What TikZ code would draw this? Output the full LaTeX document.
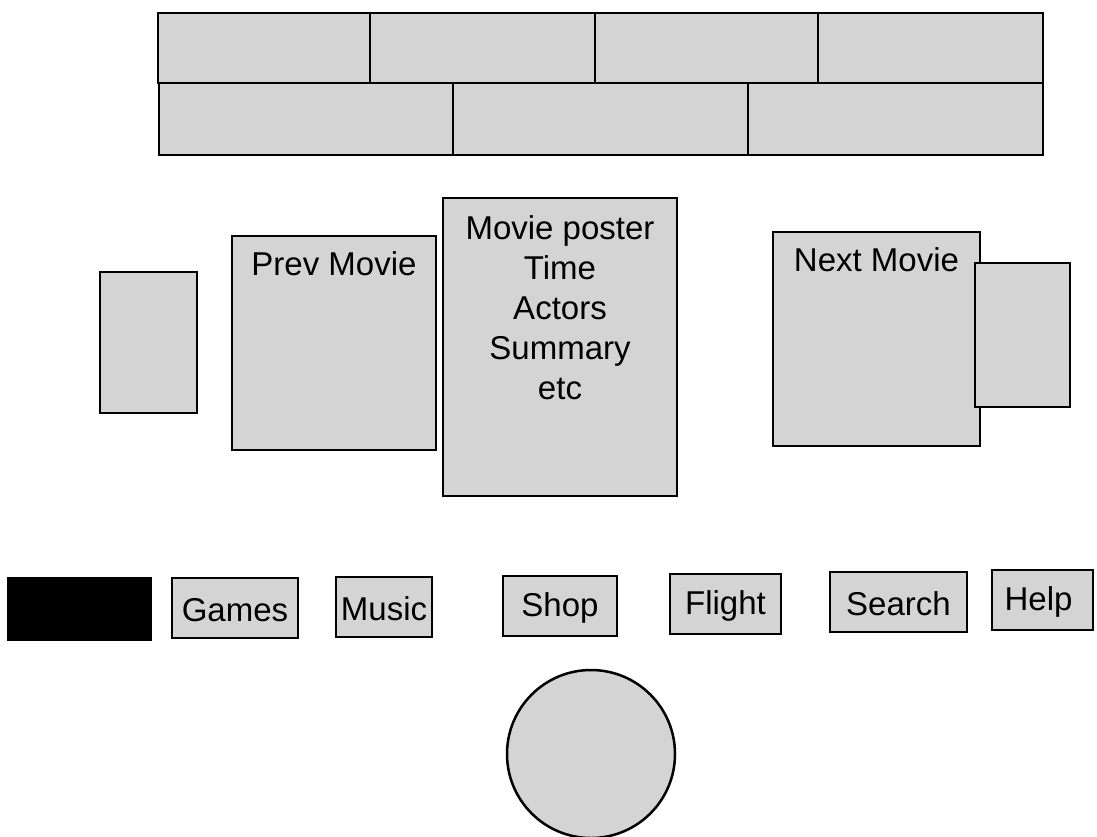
\documentclass[tikz,border=0pt]{standalone}
\usepackage{fontspec}
\setmainfont{Liberation Sans}
\tikzset{
  panel/.style={draw=black, line width=2.5pt, fill=black!17, anchor=north west, inner sep=0pt, outer sep=0pt},
  lbl/.style={font=\fontsize{33}{40}\selectfont, text=black, inner sep=0pt},
}
\newcommand{\pbox}[5]{% name, x1, y1, x2, y2
  \node[panel, minimum width={#4-#2}, minimum height={#5-#3}] (#1) at (#2,#3) {};}
\begin{document}
\begin{tikzpicture}[x=1pt,y=-1pt]
\useasboundingbox (0,0) rectangle (1097,836);
% top strip row 1
\pbox{t1}{158}{13}{370}{83}
\pbox{t2}{370}{13}{595}{83}
\pbox{t3}{595}{13}{818}{83}
\pbox{t4}{818}{13}{1043}{83}
% top strip row 2
\pbox{b1}{159}{83}{453}{155}
\pbox{b2}{453}{83}{748}{155}
\pbox{b3}{748}{83}{1043}{155}
% middle
\pbox{lsmall}{100}{272}{197}{413}
\pbox{prev}{232}{236}{436}{450}
\pbox{poster}{443}{198}{677}{496}
\pbox{next}{773}{232}{980}{446}
\pbox{rsmall}{975}{263}{1070}{407}
\node[lbl, anchor=north] (prevt) at ([yshift=-15pt]prev.north) {Prev Movie};
\node[lbl, anchor=north] (nextt) at ([yshift=-15pt]next.north) {Next Movie};
\node[lbl, anchor=north, align=center] (postert) at ([yshift=-17pt]poster.north)
  {Movie poster\\Time\\Actors\\Summary\\etc};
% buttons
\node[panel, fill=black, minimum width=143pt, minimum height=62pt] (blk) at (8,578) {};
\pbox{games}{172}{578}{298}{638}
\pbox{music}{336}{577}{432}{637}
\pbox{shop}{503}{576}{617}{636}
\pbox{flight}{670}{574}{781}{634}
\pbox{search}{830}{572}{967}{632}
\pbox{help}{992}{570}{1093}{630}
\node[lbl] at ([yshift=-2pt]games.center) {Games};
\node[lbl] at ([yshift=-2pt]music.center) {Music};
\node[lbl] at ([yshift=-2pt]shop.center) {Shop};
\node[lbl] at ([yshift=-2pt]flight.center) {Flight};
\node[lbl] at ([yshift=-2pt]search.center) {Search};
\node[lbl] at ([yshift=-2pt,xshift=-4pt]help.center) {Help};
% wheel
\node[draw=black, line width=2.5pt, fill=black!17, circle, minimum size=168pt, inner sep=0pt] (wheel) at (591,754) {};
\end{tikzpicture}
\end{document}
